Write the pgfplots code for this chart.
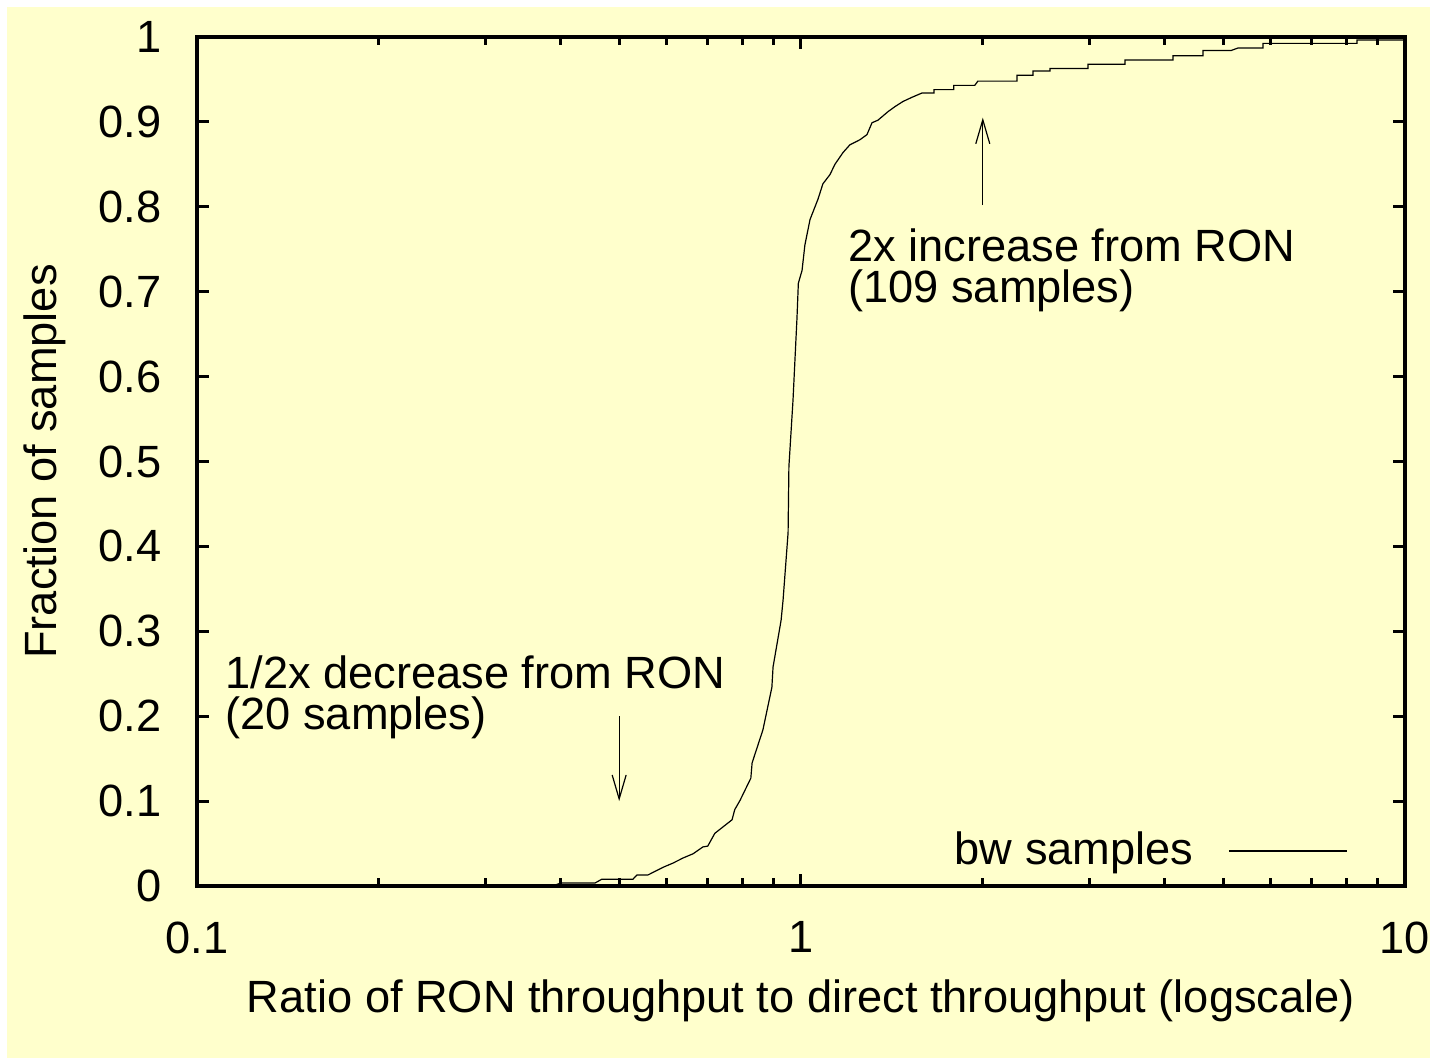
\documentclass[border=0pt]{standalone}
\usepackage{pgfplots}
\pgfplotsset{compat=1.18}
\usepackage{fontspec}
\setmainfont{Liberation Sans}
\usetikzlibrary{arrows.meta}
\definecolor{bgyellow}{RGB}{255,255,204}

\begin{document}
\fontsize{22.6bp}{22.6bp}\selectfont
\begin{tikzpicture}
\path[use as bounding box] (0bp,0bp) rectangle (715bp,529bp);
\fill[bgyellow] (3.5bp,0bp) rectangle (715bp,525.5bp);
\begin{axis}[
  at={(98.5bp,86bp)}, anchor=south west,
  scale only axis, width=604bp, height=424.5bp,
  xmode=log, xmin=0.1, xmax=10, ymin=0, ymax=1,
  xtick={0.1,1,10}, xticklabels={0.1,1,10},
  minor xtick={0.2,0.3,0.4,0.5,0.6,0.7,0.8,0.9,2,3,4,5,6,7,8,9},
  ytick={0,0.1,0.2,0.3,0.4,0.5,0.6,0.7,0.8,0.9,1},
  yticklabels={0,0.1,0.2,0.3,0.4,0.5,0.6,0.7,0.8,0.9,1},
  /pgf/number format/assume math mode=true,
  tick align=inside,
  major tick length=6bp, minor tick length=4bp,
  every tick/.style={black, line width=1.5bp},
  axis line style={line width=1.75bp},
  xticklabel style={yshift=-10bp},
  yticklabel style={xshift=-10bp},
  xlabel={Ratio of RON throughput to direct throughput (logscale)},
  ylabel={Fraction of samples},
  xlabel style={at={(axis description cs:0.5,0)}, anchor=base, yshift=-63bp},
  ylabel style={at={(axis description cs:-0.1159,0.5)}, anchor=base},
  legend plot pos=right,
  legend image code/.code={\draw[#1] (0bp,0bp) -- (59bp,0bp);},
  legend style={draw=none, fill=none, at={(0.9528,0.0412)}, anchor=east,
    inner sep=0pt, nodes={inner sep=0pt},
    /tikz/every odd column/.append style={column sep=17.5bp}},
  clip=false,
]
\addplot[black, line width=0.6bp, sharp plot] coordinates {
(0.388,0.000) (0.40,0.0035) (0.456,0.0035) (0.468,0.008) (0.527,0.008)
(0.535,0.013) (0.558,0.013) (0.591,0.022) (0.614,0.027) (0.638,0.033)
(0.663,0.038) (0.688,0.046) (0.701,0.047) (0.720,0.062) (0.769,0.078)
(0.777,0.090) (0.793,0.101) (0.826,0.127) (0.830,0.145) (0.865,0.184)
(0.895,0.234) (0.899,0.258) (0.927,0.313) (0.934,0.337) (0.952,0.416)
(0.955,0.494) (0.970,0.572) (0.985,0.670) (0.990,0.710) (1.004,0.725)
(1.015,0.755) (1.035,0.785) (1.067,0.809) (1.087,0.827) (1.117,0.838)
(1.138,0.850) (1.174,0.864) (1.205,0.873) (1.252,0.879) (1.286,0.885)
(1.311,0.899) (1.341,0.902) (1.393,0.912) (1.431,0.918) (1.475,0.924)
(1.527,0.929) (1.586,0.934) (1.66,0.934) (1.66,0.938) (1.79,0.938)
(1.79,0.943) (1.94,0.943) (1.963,0.948) (2.279,0.948) (2.279,0.955)
(2.422,0.955) (2.422,0.960) (2.584,0.960) (2.584,0.963) (2.987,0.963)
(2.987,0.968) (3.44,0.968) (3.44,0.973) (4.13,0.973) (4.13,0.978)
(4.63,0.978) (4.63,0.984) (5.15,0.984) (5.29,0.987) (5.82,0.987)
(5.82,0.9925) (8.33,0.9925) (8.33,0.9965) (9.99,0.9965)
};
\addlegendentry{bw samples}
\draw[line width=0.6bp, -{Straight Barb[length=12bp,width=7bp]}] (axis cs:2,0.802) -- (axis cs:2,0.905);
\draw[line width=0.6bp, -{Straight Barb[length=12bp,width=7bp]}] (axis cs:0.5,0.2) -- (axis cs:0.5,0.1);
\node[anchor=base west, inner sep=0pt] at (axis cs:1.196,0.735) {2x increase from RON};
\node[anchor=base west, inner sep=0pt] at (axis cs:1.196,0.6867) {(109 samples)};
\node[anchor=base west, inner sep=0pt] at (axis cs:0.1113,0.2332) {1/2x decrease from RON};
\node[anchor=base west, inner sep=0pt] at (axis cs:0.1113,0.1849) {(20 samples)};
\end{axis}
\end{tikzpicture}
\end{document}
